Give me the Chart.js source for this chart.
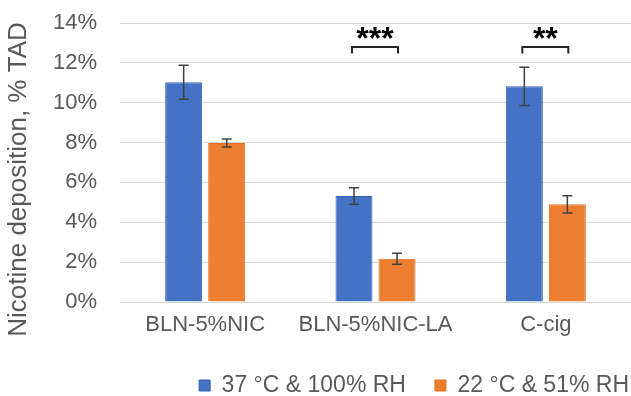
<!DOCTYPE html>
<html>
<head>
<meta charset="utf-8">
<script src="https://cdn.jsdelivr.net/npm/chart.js@4.4.1/dist/chart.umd.min.js"></script>
<style>
  html, body { margin: 0; padding: 0; background: #fff; }
  #wrap { width: 631px; height: 396px; }
</style>
</head>
<body>
<div id="wrap"><canvas id="deposition"></canvas></div>
<script>
const categories = ['BLN-5%NIC', 'BLN-5%NIC-LA', 'C-cig'];
const seriesNames = ['37 °C & 100% RH', '22 °C & 51% RH'];
const warmValues = [11.03, 5.32, 10.82];
const warmErrors = [0.85, 0.41, 0.96];
const coolValues = [7.98, 2.17, 4.9];
const coolErrors = [0.2, 0.27, 0.43];
const sigLabels = ['', '***', '**'];
const sigLevel = [null, 12.8, 12.8];
const yTicks = [0, 2, 4, 6, 8, 10, 12, 14];
const yTitle = 'Nicotine deposition, % TAD';

const FONT = "'Liberation Sans', Arial, sans-serif";
const GREY = '#595959';

// error bars, significance brackets and the y title
const extrasPlugin = {
  id: 'extras',
  afterLayout(chart) {
    // legend hugs the right edge like the original
    chart.legend.left += 27;
    chart.legend.right += 27;
  },
  afterDatasetsDraw(chart) {
    const ctx = chart.ctx;
    const y = chart.scales.y;
    const errs = [warmErrors, coolErrors];
    ctx.save();
    ctx.strokeStyle = '#404040';
    ctx.lineWidth = 1.5;
    chart.data.datasets.forEach((ds, i) => {
      const meta = chart.getDatasetMeta(i);
      meta.data.forEach((bar, j) => {
        const v = ds.data[j];
        const top = y.getPixelForValue(v + errs[i][j]);
        const bot = y.getPixelForValue(v - errs[i][j]);
        ctx.beginPath();
        ctx.moveTo(bar.x, top); ctx.lineTo(bar.x, bot);
        ctx.moveTo(bar.x - 5, top); ctx.lineTo(bar.x + 5, top);
        ctx.moveTo(bar.x - 5, bot); ctx.lineTo(bar.x + 5, bot);
        ctx.stroke();
      });
    });

    ctx.strokeStyle = '#262626';
    ctx.lineWidth = 2;
    ctx.fillStyle = '#000';
    ctx.font = 'bold 32px ' + FONT;
    ctx.textAlign = 'center';
    ctx.textBaseline = 'middle';
    sigLabels.forEach((lab, j) => {
      if (!lab) return;
      const x1 = chart.getDatasetMeta(0).data[j].x - 2;
      const x2 = chart.getDatasetMeta(1).data[j].x + 1;
      const yl = y.getPixelForValue(sigLevel[j]);
      const yt = y.getPixelForValue(sigLevel[j] - 0.33);
      ctx.beginPath();
      ctx.moveTo(x1, yt); ctx.lineTo(x1, yl); ctx.lineTo(x2, yl); ctx.lineTo(x2, yt);
      ctx.stroke();
      ctx.fillText(lab, (x1 + x2) / 2, y.getPixelForValue(sigLevel[j] + 0.35));
    });

    // y axis title, sits a bit below the middle of the plot
    const area = chart.chartArea;
    ctx.translate(19, (area.top + area.bottom) / 2 + 17);
    ctx.rotate(-Math.PI / 2);
    ctx.fillStyle = GREY;
    ctx.font = '26px ' + FONT;
    ctx.fillText(yTitle, 0, 0);
    ctx.restore();
  }
};

const ctx = document.getElementById('deposition').getContext('2d');
const chart = new Chart(ctx, {
  type: 'bar',
  data: {
    labels: categories,
    datasets: [
      {
        label: seriesNames[0],
        data: warmValues,
        backgroundColor: '#4472C4',
        borderColor: '#3563B5',
        borderWidth: 1,
        categoryPercentage: 0.505,
        barPercentage: 0.86
      },
      {
        label: seriesNames[1],
        data: coolValues,
        backgroundColor: '#ED7D31',
        borderColor: '#E26E22',
        borderWidth: 1,
        categoryPercentage: 0.505,
        barPercentage: 0.86
      }
    ]
  },
  options: {
    responsive: true,
    maintainAspectRatio: false,
    animation: false,
    layout: { padding: { top: 23, right: 0, left: 0, bottom: 0 } },
    plugins: {
      tooltip: { enabled: false },
      legend: {
        position: 'bottom',
        align: 'end',
        maxHeight: 51,
        labels: {
          color: GREY,
          font: { family: FONT, size: 23 },
          boxWidth: 11,
          boxHeight: 11,
          padding: 29
        }
      }
    },
    scales: {
      x: {
        afterFit(scale) {
          scale.height = 43;
          scale.paddingTop = 0;
          scale.paddingBottom = 0;
        },
        grid: { display: false, drawTicks: false },
        border: { display: false },
        ticks: { color: GREY, font: { family: FONT, size: 22 }, padding: 10 }
      },
      y: {
        min: 0,
        max: 14,
        afterBuildTicks(scale) { scale.ticks = yTicks.map(v => ({ value: v })); },
        afterFit(scale) {
          scale.width = 120;
          scale.paddingTop = 0;
          scale.paddingBottom = 0;
        },
        grid: { color: '#D9D9D9', lineWidth: 1, drawTicks: false },
        border: { display: false },
        ticks: {
          color: GREY,
          font: { family: FONT, size: 22 },
          padding: 23,
          callback: v => v + '%'
        }
      }
    }
  },
  plugins: [extrasPlugin]
});
</script>
</body>
</html>
